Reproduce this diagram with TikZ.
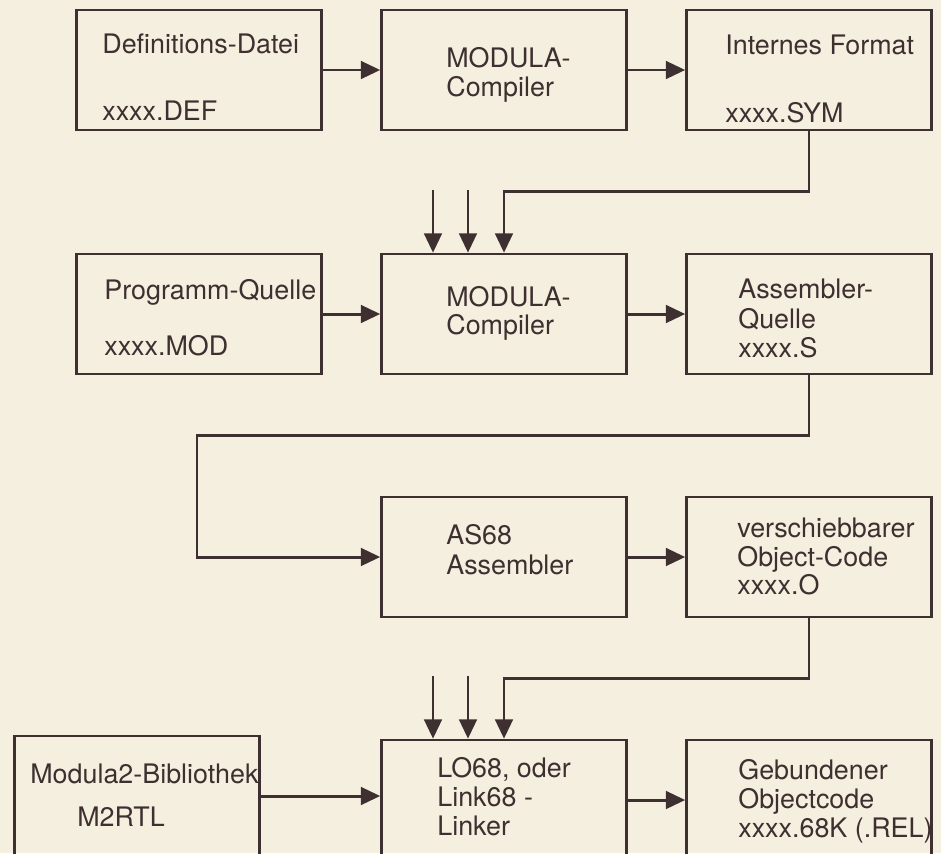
\documentclass[tikz,border=0pt]{standalone}
\usepackage{fontspec}
\setsansfont{TeX Gyre Heros}
\usetikzlibrary{arrows.meta}
\definecolor{paper}{RGB}{244,239,223}
\definecolor{ink}{RGB}{62,48,48}

\begin{document}
\begin{tikzpicture}[x=0.02cm, y=-0.02cm,
  box/.style={draw=ink, line width=1.5pt, minimum width=4.9cm, minimum height=2.4cm, inner sep=0pt},
  arr/.style={-{Triangle[length=11pt, width=10pt]}, ink, line width=1.7pt},
  txt/.style={anchor=base west, inner sep=0pt, text=ink, font=\sffamily\fontsize{15.3}{17}\selectfont}]
  \fill[paper] (0,0) rectangle (941,853);
  \clip (0,0) rectangle (941,853);

  % Kaesten, Zeile fuer Zeile
  \node[box] (def) at (199,70) {};
  \node[box] (mca) at (504,70) {};
  \node[box] (sym) at (809,70) {};
  \node[box] (mod) at (199,314) {};
  \node[box] (mcb) at (504,314) {};
  \node[box] (asq) at (809,314) {};
  \node[box] (asm) at (504,557) {};
  \node[box] (obj) at (809,557) {};
  \node[box] (lib) at (137,796) {};
  \node[box] (lnk) at (504,800) {};
  \node[box] (rel) at (809,800) {};

  % Beschriftungen
  \node[txt] (defa) at (102,53) {Definitions-Datei};
  \node[txt] (defb) at (102,120) {xxxx.DEF};
  \node[txt] (mcaa) at (446,67) {MODULA-};
  \node[txt] (mcab) at (446,96) {Compiler};
  \node[txt] (syma) at (725,54) {Internes Format};
  \node[txt] (symb) at (725,122) {xxxx.SYM};

  \node[txt] (moda) at (104,299) {Programm-Quelle};
  \node[txt] (modb) at (104,355) {xxxx.MOD};
  \node[txt] (mcba) at (446,306) {MODULA-};
  \node[txt] (mcbb) at (446,334) {Compiler};
  \node[txt] (asqa) at (738,298) {Assembler-};
  \node[txt] (asqb) at (738,328) {Quelle};
  \node[txt] (asqc) at (738,357) {xxxx.S};

  \node[txt] (asma) at (446,544) {AS68};
  \node[txt] (asmb) at (446,574) {Assembler};
  \node[txt] (obja) at (737,537) {verschiebbarer};
  \node[txt] (objb) at (737,566) {Object-Code};
  \node[txt] (objc) at (737,594) {xxxx.O};

  \node[txt] (liba) at (30,783) {Modula2-Bibliothek};
  \node[txt] (libb) at (77,826) {M2RTL};
  \node[txt] (lnka) at (437,777) {LO68, oder};
  \node[txt] (lnkb) at (437,806) {Link68 -};
  \node[txt] (lnkc) at (437,835) {Linker};
  \node[txt] (rela) at (738,779) {Gebundener};
  \node[txt] (relb) at (738,808) {Objectcode};
  \node[txt] (relc) at (738,837) {xxxx.68K (.REL)};

  % freie Enden der Zusatzpfeile
  \coordinate (ina) at (433,190);
  \coordinate (inb) at (468,190);
  \coordinate (inc) at (433,676);
  \coordinate (ind) at (468,676);
  \coordinate (turn) at (197,435);

  % Pfeile
  \draw[arr] (def) -- (mca);
  \draw[arr] (mca) -- (sym);
  \draw[arr] (sym.south) -- ++(0,60) -| (mcb.north);
  \draw[arr] (ina) -- (ina |- mcb.north);
  \draw[arr] (inb) -- (inb |- mcb.north);
  \draw[arr] (mod) -- (mcb);
  \draw[arr] (mcb) -- (asq);
  \draw[arr] (asq.south) |- (turn) |- (asm.west);
  \draw[arr] (asm) -- (obj);
  \draw[arr] (obj.south) -- ++(0,60) -| (lnk.north);
  \draw[arr] (inc) -- (inc |- lnk.north);
  \draw[arr] (ind) -- (ind |- lnk.north);
  \draw[arr] (lib.east) -- (lib.east -| lnk.west);
  \draw[arr] (lnk) -- (rel);
\end{tikzpicture}
\end{document}
